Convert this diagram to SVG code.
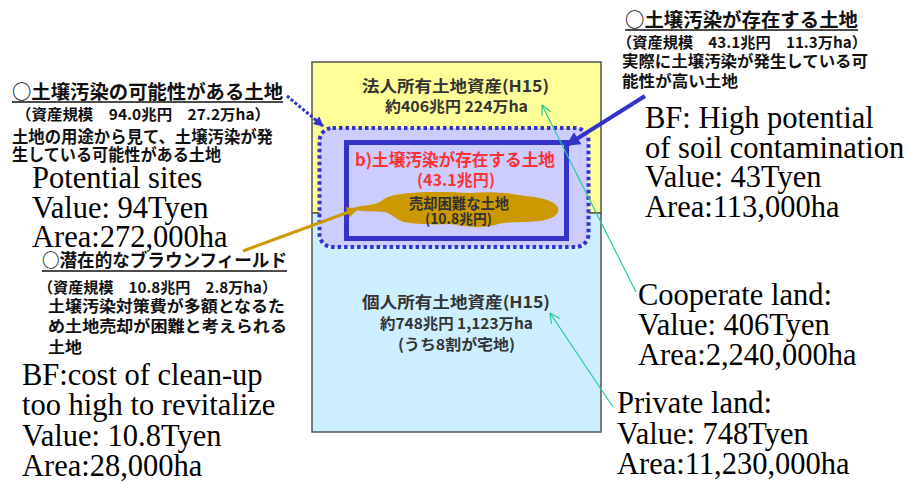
<svg xmlns="http://www.w3.org/2000/svg" width="911" height="483" viewBox="0 0 911 483">
<defs>
<style>
.jp{font-family:"Noto Sans CJK JP","Noto Sans",sans-serif;font-weight:bold;fill:#111}
.jc{font-family:"Noto Sans CJK JP","Noto Sans",sans-serif;font-weight:bold;fill:#333}
.red{fill:#ff3333}
.en{font-family:"Liberation Serif","Times New Roman",serif;font-size:30.5px;fill:#000}
.ul{stroke:#111;stroke-width:1.5}
.teal{stroke:#22cc99;stroke-width:1.2;fill:none}
</style>
<marker id="mBlue" markerUnits="userSpaceOnUse" viewBox="0 0 10 10" refX="9" refY="5" markerWidth="16" markerHeight="14" orient="auto"><path d="M0,0 L10,5 L0,10 z" fill="#3333cc"/></marker>
<marker id="mBlueS" markerUnits="userSpaceOnUse" viewBox="0 0 10 10" refX="9" refY="5" markerWidth="11" markerHeight="10" orient="auto"><path d="M0,0 L10,5 L0,10 z" fill="#3333cc"/></marker>
<marker id="mGold" markerUnits="userSpaceOnUse" viewBox="0 0 10 10" refX="9" refY="5" markerWidth="13" markerHeight="11" orient="auto"><path d="M0,0 L10,5 L0,10 z" fill="#cc9900"/></marker>
<marker id="mTeal" markerUnits="userSpaceOnUse" viewBox="0 0 10 10" refX="10" refY="5" markerWidth="11" markerHeight="10" orient="auto"><path d="M0,0 L10,5 L0,10" fill="none" stroke="#22cc99" stroke-width="1.2"/></marker>
</defs>
<rect width="911" height="483" fill="#fff"/>

<g id="corporate-land">
<rect x="312" y="62" width="289" height="151" fill="#ffff99" stroke="#555" stroke-width="1.5"/>
<text class="jc" x="362" y="92" font-size="16" textLength="187" lengthAdjust="spacingAndGlyphs">法人所有土地資産(H15)</text>
<text class="jc" x="385" y="112" font-size="15" textLength="143" lengthAdjust="spacingAndGlyphs">約406兆円  224万ha</text>
</g>

<g id="private-land">
<rect x="312" y="213" width="289" height="219" fill="#cceeff" stroke="#555" stroke-width="1.5"/>
<text class="jc" x="362" y="308" font-size="16" textLength="188" lengthAdjust="spacingAndGlyphs">個人所有土地資産(H15)</text>
<text class="jc" x="380" y="329" font-size="15" textLength="153" lengthAdjust="spacingAndGlyphs">約748兆円 1,123万ha</text>
<text class="jc" x="398" y="350" font-size="15" textLength="117" lengthAdjust="spacingAndGlyphs">(うち8割が宅地)</text>
</g>

<g id="potential-sites-area">
<rect x="319.5" y="128" width="269" height="119" rx="13" fill="#ccccff" stroke="#3333cc" stroke-width="4" stroke-dasharray="3.5 3"/>
</g>

<g id="contaminated-land">
<rect x="346.5" y="142.5" width="220" height="96" fill="#ccccff" stroke="#3333cc" stroke-width="5"/>
<text class="jc red" x="355" y="166" font-size="17" textLength="200" lengthAdjust="spacingAndGlyphs">b)土壌汚染が存在する土地</text>
<text class="jc red" x="417" y="186" font-size="16" textLength="78" lengthAdjust="spacingAndGlyphs">(43.1兆円)</text>
</g>

<g id="brownfield-blob">
<path d="M350,209 C360,205 372,206 380,202 C386,197 392,195 402,194 C420,191 450,192 470,193 C490,191 510,193 525,196 C540,197 556,201 558,208 C560,215 552,219 540,221 C520,223 505,221 495,225 C480,229 465,226 450,224 C430,225 415,224 404,222 C396,220 392,214 385,212 C375,211 360,212 350,209 Z" fill="#cc9900"/>
<text class="jc" x="409" y="209" font-size="15" textLength="100" lengthAdjust="spacingAndGlyphs">売却困難な土地</text>
<text class="jc" x="425" y="224" font-size="14" textLength="67" lengthAdjust="spacingAndGlyphs">(10.8兆円)</text>
</g>

<g id="note-potential">
<text class="jp" x="12" y="99" font-size="19" textLength="271" lengthAdjust="spacingAndGlyphs">○土壌汚染の可能性がある土地</text>
<line class="ul" x1="12" y1="102" x2="283" y2="102"/>
<text class="jp" x="16" y="120" font-size="15" textLength="254" lengthAdjust="spacingAndGlyphs">（資産規模　94.0兆円　27.2万ha）</text>
<text class="jp" x="12" y="143" font-size="16.5" textLength="261" lengthAdjust="spacingAndGlyphs">土地の用途から見て、土壌汚染が発</text>
<text class="jp" x="12" y="161" font-size="16.5" textLength="209" lengthAdjust="spacingAndGlyphs">生している可能性がある土地</text>
<text class="en" x="32" y="188">Potential sites</text>
<text class="en" x="32" y="218">Value: 94Tyen</text>
<text class="en" x="32" y="247">Area:272,000ha</text>
</g>

<g id="note-existing">
<text class="jp" x="625" y="27" font-size="19" textLength="233" lengthAdjust="spacingAndGlyphs">○土壌汚染が存在する土地</text>
<line class="ul" x1="625" y1="30" x2="858" y2="30"/>
<text class="jp" x="617" y="48" font-size="15" textLength="250" lengthAdjust="spacingAndGlyphs">（資産規模　43.1兆円　11.3万ha）</text>
<text class="jp" x="622" y="67" font-size="16" textLength="246" lengthAdjust="spacingAndGlyphs">実際に土壌汚染が発生している可</text>
<text class="jp" x="622" y="87" font-size="16" textLength="116" lengthAdjust="spacingAndGlyphs">能性が高い土地</text>
<text class="en" x="645" y="128">BF: High potential</text>
<text class="en" x="645" y="158">of soil contamination</text>
<text class="en" x="645" y="187">Value: 43Tyen</text>
<text class="en" x="645" y="217">Area:113,000ha</text>
</g>

<g id="note-brownfield">
<text class="jp" x="42" y="267" font-size="18" textLength="245" lengthAdjust="spacingAndGlyphs">○潜在的なブラウンフィールド</text>
<line class="ul" x1="42" y1="271" x2="287" y2="271"/>
<text class="jp" x="38" y="293" font-size="15" textLength="239" lengthAdjust="spacingAndGlyphs">（資産規模　10.8兆円　2.8万ha）</text>
<text class="jp" x="48" y="312" font-size="16" textLength="237" lengthAdjust="spacingAndGlyphs">土壌汚染対策費が多額となるた</text>
<text class="jp" x="48" y="332" font-size="16" textLength="239" lengthAdjust="spacingAndGlyphs">め土地売却が困難と考えられる</text>
<text class="jp" x="48" y="353" font-size="16" textLength="34" lengthAdjust="spacingAndGlyphs">土地</text>
<text class="en" x="22" y="385">BF:cost of clean-up</text>
<text class="en" x="22" y="415">too high to revitalize</text>
<text class="en" x="22" y="446">Value: 10.8Tyen</text>
<text class="en" x="22" y="476">Area:28,000ha</text>
</g>

<g id="note-cooperate">
<text class="en" x="638" y="305">Cooperate land:</text>
<text class="en" x="638" y="335">Value: 406Tyen</text>
<text class="en" x="638" y="365">Area:2,240,000ha</text>
</g>

<g id="note-private">
<text class="en" x="617" y="413">Private land:</text>
<text class="en" x="617" y="444">Value: 748Tyen</text>
<text class="en" x="617" y="474">Area:11,230,000ha</text>
</g>

<g id="connectors">
<line x1="287" y1="96" x2="323" y2="126" stroke="#3333cc" stroke-width="3" stroke-dasharray="3 2" marker-end="url(#mBlueS)"/>
<line x1="645" y1="96" x2="567" y2="145" stroke="#3333cc" stroke-width="4" marker-end="url(#mBlue)"/>
<line x1="243" y1="251" x2="357" y2="209" stroke="#cc9900" stroke-width="3" marker-end="url(#mGold)"/>
<line class="teal" x1="636" y1="292" x2="542" y2="105" marker-end="url(#mTeal)"/>
<line class="teal" x1="613" y1="407" x2="550" y2="313" marker-end="url(#mTeal)"/>
</g>
</svg>
